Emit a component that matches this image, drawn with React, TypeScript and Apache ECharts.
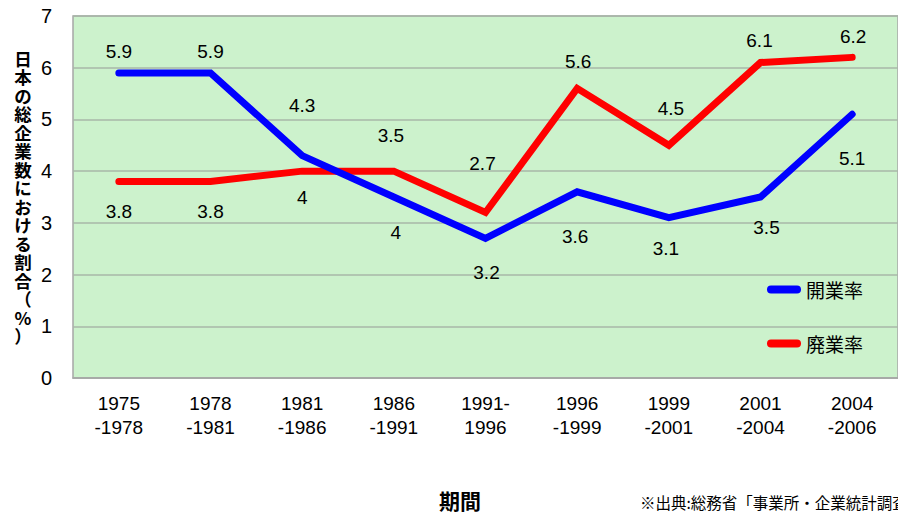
import React, { useEffect, useRef } from "react";
import * as echarts from "echarts";

const categories = [
  "1975\n-1978",
  "1978\n-1981",
  "1981\n-1986",
  "1986\n-1991",
  "1991-\n1996",
  "1996\n-1999",
  "1999\n-2001",
  "2001\n-2004",
  "2004\n-2006",
];
const openingRate = [5.9, 5.9, 4.3, 3.5, 2.7, 3.6, 3.1, 3.5, 5.1];
const closingRate = [3.8, 3.8, 4, 4, 3.2, 5.6, 4.5, 6.1, 6.2];
const seriesNames = ["開業率", "廃業率"];
const yAxisTitle = "日本の総企業数における割合（%）";
const xAxisTitle = "期間";
const sourceNote = "※出典:総務省「事業所・企業統計調査」";

const LATIN = "'Liberation Sans', Arial, 'Noto Sans CJK JP', sans-serif";
const CJK = "'Noto Sans CJK JP', 'Liberation Sans', sans-serif";

export default function App() {
  const ref = useRef<HTMLDivElement>(null);

  useEffect(() => {
    document.body.style.margin = "0";
    if (!ref.current) return;
    const chart = echarts.init(ref.current, undefined, { renderer: "svg" });

    // manual label placements (label offsets relative to each point)
    const blueOffsets = [
      [0, -21], [0, -21], [0, -50], [-3, -62], [-3, -75],
      [-2, 45], [-3, 31], [6, 30], [0, 44],
    ];
    const redOffsets = [
      [0, 30], [0, 30], [0, 26], [2, 61], [1, 60],
      [1, -27], [2, -37], [-1, -22], [1, -21],
    ];

    const mkData = (vals: number[], offs: number[][]) =>
      vals.map((v, i) => ({
        value: v,
        label: { show: true, position: "inside", offset: offs[i] },
      }));

    const labelStyle = {
      color: "#000",
      fontSize: 19,
      fontFamily: LATIN,
      formatter: (p: any) => String(p.value),
    };

    const legendIcon =
      "path://M4,0 L30,0 A4,4 0 0 1 30,8 L4,8 A4,4 0 0 1 4,0 Z";

    chart.setOption({
      animation: false,
      grid: {
        left: 73,
        top: 16,
        bottom: 136,
        right: -5,
        show: true,
        backgroundColor: "#ccf2cc",
        borderColor: "#a6a6a6",
        borderWidth: 1.5,
      },
      legend: {
        orient: "vertical",
        left: 762,
        top: 275,
        itemWidth: 34,
        itemHeight: 8,
        itemGap: 35,
        icon: legendIcon,
        data: seriesNames,
        textStyle: { color: "#000", fontSize: 19, fontFamily: CJK },
      },
      xAxis: {
        type: "category",
        data: categories,
        boundaryGap: true,
        axisLine: { show: true, lineStyle: { color: "#a6a6a6", width: 1.5 } },
        axisTick: { show: false },
        axisLabel: {
          color: "#000",
          fontSize: 19,
          fontFamily: LATIN,
          lineHeight: 24,
          margin: 13,
          interval: 0,
        },
      },
      yAxis: {
        type: "value",
        min: 0,
        max: 7,
        interval: 1,
        axisLine: { show: false },
        axisTick: { show: false },
        axisLabel: { color: "#000", fontSize: 20, fontFamily: LATIN, margin: 21 },
        splitLine: { show: true, lineStyle: { color: "#a9b7a9", width: 1.5 } },
      },
      series: [
        {
          name: seriesNames[0],
          type: "line",
          data: mkData(openingRate, blueOffsets),
          symbol: "circle",
          symbolSize: 2,
          itemStyle: { color: "#0000ff" },
          lineStyle: { color: "#0000ff", width: 7, cap: "round", join: "miter" },
          label: labelStyle,
          z: 3,
        },
        {
          name: seriesNames[1],
          type: "line",
          data: mkData(closingRate, redOffsets),
          symbol: "circle",
          symbolSize: 2,
          itemStyle: { color: "#ff0000" },
          lineStyle: { color: "#ff0000", width: 7, cap: "round", join: "miter" },
          label: labelStyle,
          z: 2,
        },
      ],
      graphic: [
        {
          type: "text",
          x: 23,
          y: 197,
          style: {
            text: Array.from(yAxisTitle).join("\n"),
            fontSize: 17.5,
            fontWeight: "bold",
            fontFamily: CJK,
            lineHeight: 18.5,
            fill: "#000",
            align: "center",
            verticalAlign: "middle",
          },
        },
        {
          type: "text",
          x: 460,
          y: 500,
          style: {
            text: xAxisTitle,
            fontSize: 21,
            fontWeight: "bold",
            fontFamily: CJK,
            fill: "#000",
            align: "center",
            verticalAlign: "middle",
          },
        },
        {
          type: "text",
          x: 640,
          y: 502,
          style: {
            text: sourceNote,
            fontSize: 15.5,
            fontFamily: CJK,
            fill: "#000",
            align: "left",
            verticalAlign: "middle",
          },
        },
      ],
    });

    return () => chart.dispose();
  }, []);

  return <div ref={ref} style={{ width: 898, height: 514 }} />;
}
